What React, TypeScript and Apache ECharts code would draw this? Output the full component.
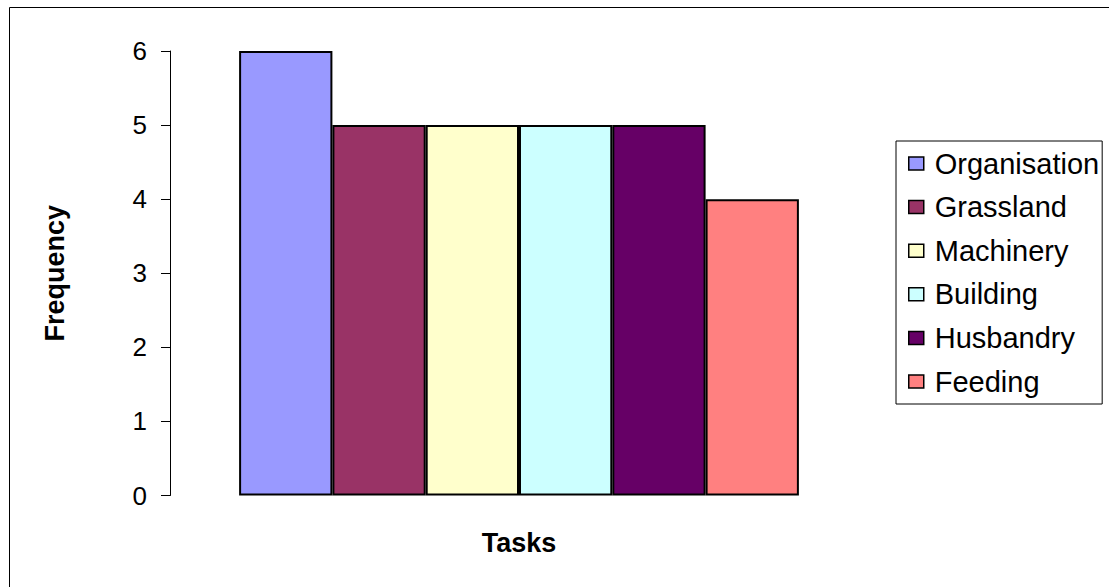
import React, { useEffect, useRef } from "react";
import * as echarts from "echarts";

const categories = [""];
const seriesNames = ["Organisation", "Grassland", "Machinery", "Building", "Husbandry", "Feeding"];
const seriesValues = [6, 5, 5, 5, 5, 4];
const seriesColors = ["#9999FF", "#993366", "#FFFFCC", "#CCFFFF", "#660066", "#FF8080"];
const yTicks = [0, 1, 2, 3, 4, 5, 6];

export default function App() {
  const ref = useRef<HTMLDivElement>(null);
  useEffect(() => {
    if (!ref.current) return;
    const chart = echarts.init(ref.current, null, { renderer: "svg" });
    const font = "'Liberation Sans', Arial, sans-serif";
    chart.setOption({
      animation: false,
      backgroundColor: "#ffffff",
      textStyle: { fontFamily: font },
      graphic: [
        {
          type: "rect",
          shape: { x: 9.5, y: 7.5, width: 1300, height: 800 },
          style: { fill: "none", stroke: "#000", lineWidth: 1 },
          silent: true,
        },
      ],
      grid: { left: 170, top: 51, right: 241, bottom: 91.5, containLabel: false },
      legend: {
        orient: "vertical",
        left: 896,
        top: 141,
        padding: [8, 3, 8, 12],
        itemGap: 14.6,
        itemWidth: 15,
        itemHeight: 13,
        icon: "rect",
        borderColor: "#000",
        borderWidth: 1,
        data: seriesNames,
        textStyle: {
          fontFamily: font,
          fontSize: 29,
          color: "#000",
          lineHeight: 28,
          padding: [0, 0, 0, 6],
        },
        itemStyle: { borderColor: "#000", borderWidth: 1.5 },
      },
      xAxis: {
        type: "category",
        data: categories,
        name: "Tasks",
        nameLocation: "middle",
        nameGap: 34,
        nameTextStyle: { fontFamily: font, fontSize: 27, fontWeight: "bold", color: "#000" },
        axisLine: { show: false },
        axisTick: { show: false },
        axisLabel: { show: false },
      },
      yAxis: {
        type: "value",
        min: yTicks[0],
        max: yTicks[yTicks.length - 1],
        interval: 1,
        name: "Frequency",
        nameLocation: "middle",
        nameRotate: 90,
        nameGap: 102,
        nameTextStyle: { fontFamily: font, fontSize: 27, fontWeight: "bold", color: "#000" },
        axisLine: { show: true, lineStyle: { color: "#000", width: 1 } },
        axisTick: { show: true, length: 9, lineStyle: { color: "#000" } },
        axisLabel: { fontFamily: font, fontSize: 26, color: "#000", margin: 23 },
        splitLine: { show: false },
      },
      series: seriesNames.map((name, i) => ({
        name,
        type: "bar",
        data: [seriesValues[i]],
        barGap: "0%",
        barCategoryGap: "19.8%",
        itemStyle: { color: seriesColors[i], borderColor: "#000", borderWidth: 2 },
      })),
    });
    return () => chart.dispose();
  }, []);
  return (
    <div
      ref={ref}
      style={{ position: "absolute", left: 0, top: 0, width: 1109, height: 587 }}
    />
  );
}
